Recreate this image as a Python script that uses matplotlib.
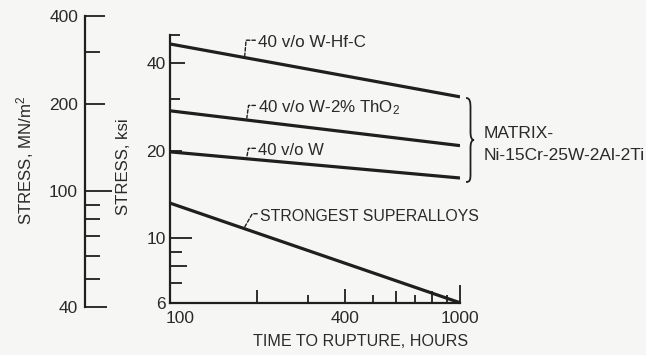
import numpy as np
import matplotlib
matplotlib.use("Agg")
import matplotlib.pyplot as plt
import matplotlib.transforms as mtransforms
from matplotlib.path import Path
from matplotlib.patches import PathPatch

# ---------------- data ----------------
hours = [100, 1000]
series_names = ["40 v/o W-Hf-C", "40 v/o W-2% ThO$_2$", "40 v/o W", "STRONGEST SUPERALLOYS"]
hfc = [46.5, 30.6]
tho2 = [27.4, 20.8]
w40 = [19.8, 16.1]
superalloys = [13.2, 6.0]

# label anchor (data coords): text left x, text baseline y, leader x on line, leader angle
label_x = [201, 201, 201, 204]
label_y = [45.4, 27.1, 19.3, 11.5]
leader_x = [181, 184, 184, 181]
leader_angle = [85, 82, 79, 60]

x_ticks = [100, 200, 300, 400, 500, 600, 700, 800, 900, 1000]
x_ticklabels = ["100", "", "", "400", "", "", "", "", "", "1000"]
ksi_ticks = [6, 7, 8, 9, 10, 20, 30, 40, 50]
ksi_ticklabels = ["6", "", "", "", "10", "20", "", "40", ""]
mpa_ticks = [40, 50, 60, 70, 80, 90, 100, 200, 300, 400]
mpa_ticklabels = ["40", "", "", "", "", "", "100", "200", "", "400"]

KSI_TO_MPA = 6.895

# ---------------- style ----------------
FONT = ["Liberation Sans", "DejaVu Sans"]
plt.rcParams["font.family"] = FONT
plt.rcParams["mathtext.fontset"] = "custom"
plt.rcParams["mathtext.rm"] = "Liberation Sans"
plt.rcParams["mathtext.it"] = "Liberation Sans"
BG = "#f6f6f4"
INK = "#1f1f1f"
TXT = "#2a2a2a"
FS = 12.5

W, H = 646, 355
fig = plt.figure(figsize=(W / 100, H / 100), dpi=100, facecolor=BG)
renderer = fig.canvas.get_renderer()


def fit(t, target, vertical=False):
    bb = t.get_window_extent(renderer)
    size = bb.height if vertical else bb.width
    ratio = (target + 2) / size
    t.set_fontsize(min(13.0, FS * ratio ** 0.6))


ymin_ksi = 40 / KSI_TO_MPA
ymax_ksi = 400 / KSI_TO_MPA
left_px, right_px = 170, 460
top_px, bot_px = 16, 307
pos = [left_px / W, 1 - bot_px / H, (right_px - left_px) / W, (bot_px - top_px) / H]

ax = fig.add_axes(pos)
ax.set_facecolor("none")
ax.set_xscale("log")
ax.set_yscale("log")
ax.set_xlim(100, 1000)
ax.set_ylim(ymin_ksi, ymax_ksi)

for yv in (hfc, tho2, w40, superalloys):
    ax.plot(hours, yv, color=INK, lw=2.3, solid_capstyle="butt", zorder=3)

for sp in ("top", "right"):
    ax.spines[sp].set_visible(False)
ax.spines["left"].set_bounds(6, 50)
ax.spines["bottom"].set_position(("data", 6))
ax.spines["bottom"].set_bounds(100, 1000)
for sp in ("left", "bottom"):
    ax.spines[sp].set_linewidth(1.6)
    ax.spines[sp].set_color(INK)

ax.set_xticks(x_ticks)
ax.set_xticklabels(x_ticklabels)
ax.set_yticks(ksi_ticks)
ax.set_yticklabels(ksi_ticklabels)
ax.xaxis.set_minor_locator(matplotlib.ticker.NullLocator())
ax.yaxis.set_minor_locator(matplotlib.ticker.NullLocator())
ax.tick_params(axis="both", direction="in", width=1.3, color=INK, labelsize=FS, labelcolor=TXT)
ax.tick_params(axis="x", pad=6)
ax.tick_params(axis="y", pad=3)

x_len = [0, 13, 8, 14, 8, 12, 8, 12, 8, 18]
y_len = [0, 12, 17, 12, 22, 12, 10, 15, 10]
for t, L in zip(ax.xaxis.get_major_ticks(), x_len):
    t.tick1line.set_markersize(L * 0.72)
for t, L in zip(ax.yaxis.get_major_ticks(), y_len):
    t.tick1line.set_markersize(L * 0.72)
# first x label ("100") sits to the right of its tick, as in the reference
lab100 = ax.xaxis.get_major_ticks()[0].label1
lab100.set_horizontalalignment("left")
lab100.set_transform(lab100.get_transform()
                     + mtransforms.ScaledTranslation(-4 / 100, 0, fig.dpi_scale_trans))

# series labels with dashed leaders
label_widths = [105, 137, 62, 205]
lines_data = [hfc, tho2, w40, superalloys]
for name, lx, ly, ldx, ang, yv, wt in zip(series_names, label_x, label_y, leader_x,
                                          leader_angle, lines_data, label_widths):
    f = (np.log10(ldx) - np.log10(hours[0])) / (np.log10(hours[1]) - np.log10(hours[0]))
    ly_line = 10 ** (np.log10(yv[0]) + f * (np.log10(yv[1]) - np.log10(yv[0])))
    t = ax.text(lx, ly, name, fontsize=FS, color=TXT, ha="left", va="baseline", zorder=4)
    fit(t, wt)
    ax.annotate("", xy=(ldx, ly_line * 1.015), xytext=(lx * 0.98, ly * 1.055),
                arrowprops=dict(arrowstyle="-", color=INK, lw=1.0, linestyle=(0, (2.5, 1.5)),
                                connectionstyle=f"angle,angleA=0,angleB={ang},rad=0",
                                shrinkA=0, shrinkB=0))

# ---------------- left MN/m^2 axis ----------------
ax2 = fig.add_axes([85 / W, pos[1], 0.06, pos[3]])
ax2.set_facecolor("none")
ax2.set_yscale("log")
ax2.set_ylim(40, 400)
ax2.set_xticks([])
for sp in ("top", "right", "bottom"):
    ax2.spines[sp].set_visible(False)
ax2.spines["left"].set_linewidth(1.6)
ax2.spines["left"].set_color(INK)
ax2.set_yticks(mpa_ticks)
ax2.set_yticklabels(mpa_ticklabels)
ax2.yaxis.set_minor_locator(matplotlib.ticker.NullLocator())
ax2.tick_params(axis="y", direction="in", width=1.3, color=INK, labelsize=FS, labelcolor=TXT, pad=5)
mpa_len = [22, 15, 15, 15, 15, 15, 27, 20, 15, 20]
for t, L in zip(ax2.yaxis.get_major_ticks(), mpa_len):
    t.tick1line.set_markersize(L * 0.72)

# ---------------- overlay for labels and brace ----------------
ov = fig.add_axes([0, 0, 1, 1])
ov.set_xlim(0, W)
ov.set_ylim(H, 0)
ov.axis("off")
ov.set_facecolor("none")

t = ov.text(25, 160, "STRESS, MN/m$^2$", rotation=90, fontsize=FS, color=TXT, ha="center", va="center")
fit(t, 124, vertical=True)
t = ov.text(123, 167, "STRESS, ksi", rotation=90, fontsize=FS, color=TXT, ha="center", va="center")
fit(t, 93, vertical=True)
t = ov.text(361, 342, "TIME TO RUPTURE, HOURS", fontsize=FS, color=TXT, ha="center", va="center")
fit(t, 202)
t = ov.text(484, 133, "MATRIX-", fontsize=FS, color=TXT, ha="left", va="center")
fit(t, 68)
t = ov.text(484, 155, "Ni-15Cr-25W-2Al-2Ti", fontsize=FS, color=TXT, ha="left", va="center")
fit(t, 159)

verts = [(466, 98), (470, 98), (470.5, 102), (470.5, 108),
         (470.5, 132),
         (470.5, 137), (471.5, 140), (474, 140),
         (471.5, 140), (470.5, 143), (470.5, 148),
         (470.5, 174),
         (470.5, 180), (470, 182), (466, 182)]
codes = [Path.MOVETO, Path.CURVE4, Path.CURVE4, Path.CURVE4,
         Path.LINETO,
         Path.CURVE4, Path.CURVE4, Path.CURVE4,
         Path.CURVE4, Path.CURVE4, Path.CURVE4,
         Path.LINETO,
         Path.CURVE4, Path.CURVE4, Path.CURVE4]
ov.add_patch(PathPatch(Path(verts, codes), fill=False, lw=1.3, edgecolor=INK))

fig.savefig("out.png", dpi=100, facecolor=BG)
